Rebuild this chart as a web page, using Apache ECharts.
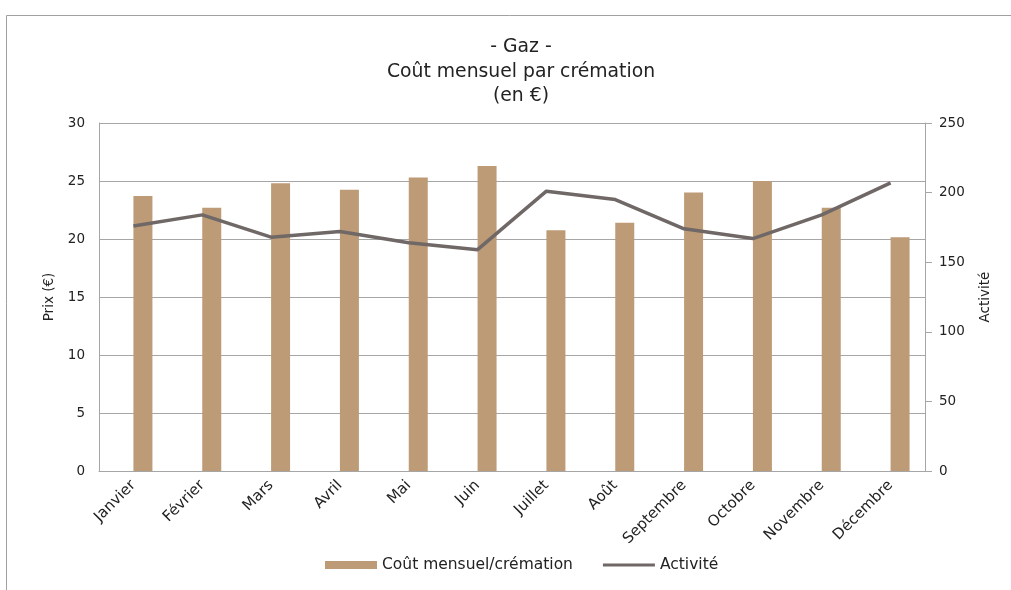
<!DOCTYPE html>
<html>
<head>
<meta charset="utf-8">
<script src="https://cdn.jsdelivr.net/npm/echarts@6/dist/echarts.min.js"></script>
<style>
html, body { margin: 0; padding: 0; background: #fff; }
#main { width: 1011px; height: 590px; }
</style>
</head>
<body>
<div id="main"></div>
<script>
var months = ['Janvier', 'Février', 'Mars', 'Avril', 'Mai', 'Juin', 'Juillet', 'Août', 'Septembre', 'Octobre', 'Novembre', 'Décembre'];
var coutMensuel = [23.7, 22.7, 24.8, 24.25, 25.3, 26.3, 20.75, 21.4, 24.0, 25.0, 22.7, 20.15];
var activite = [176, 184, 168, 172, 164, 159, 201, 195, 174, 167, 184, 207];
var prixTicks = [0, 5, 10, 15, 20, 25, 30];
var activiteTicks = [0, 50, 100, 150, 200, 250];
// empty companion column: the workbook keeps a blank slot left of each bar
var colonneVide = months.map(function() { return null; });

var chart = echarts.init(document.getElementById('main'));
var font = '"DejaVu Sans", sans-serif';
var gris = '#a6a6a6';
var texte = '#222';

var option = {
    backgroundColor: '#fff',
    textStyle: { fontFamily: font },
    graphic: [{
        type: 'rect',
        left: 4, top: 13,
        shape: { width: 1100, height: 700 },
        style: { fill: 'none', stroke: '#a0a0a0', lineWidth: 1 },
        silent: true
    }],
    title: {
        text: '- Gaz -\nCoût mensuel par crémation\n(en €)',
        left: 516,
        top: 30,
        textAlign: 'center',
        textStyle: {
            color: texte,
            fontSize: 18.8,
            fontWeight: 'normal',
            lineHeight: 24.5,
            fontFamily: font
        }
    },
    legend: {
        top: 552,
        left: 320,
        itemWidth: 52,
        itemHeight: 8,
        itemGap: 30,
        textStyle: { color: texte, fontSize: 15.5, fontFamily: font },
        data: [
            { name: 'Coût mensuel/crémation', icon: 'rect' },
            { name: 'Activité', icon: 'path://M0,0 H52 V3 H0 Z' }
        ]
    },
    grid: {
        left: 99,
        right: 86,
        top: 123,
        bottom: 119
    },
    xAxis: {
        type: 'category',
        data: months,
        axisLine: { lineStyle: { color: gris } },
        axisTick: { show: false },
        axisLabel: {
            rotate: 45,
            color: texte,
            fontSize: 15,
            margin: 12,
            interval: 0
        }
    },
    yAxis: [{
        type: 'value',
        min: prixTicks[0],
        max: prixTicks[prixTicks.length - 1],
        interval: 5,
        name: 'Prix (€)',
        nameLocation: 'middle',
        nameGap: 41,
        nameTextStyle: { color: texte, fontSize: 13.5 },
        axisLine: { show: true, lineStyle: { color: gris } },
        axisTick: { show: false },
        axisLabel: { color: texte, fontSize: 13.5, margin: 14 },
        splitLine: { lineStyle: { color: gris } }
    }, {
        type: 'value',
        min: activiteTicks[0],
        max: activiteTicks[activiteTicks.length - 1],
        interval: 50,
        name: 'Activité',
        nameLocation: 'middle',
        nameGap: 53,
        nameTextStyle: { color: texte, fontSize: 13.5 },
        axisLine: { show: true, lineStyle: { color: gris } },
        axisTick: { show: true, length: 7, lineStyle: { color: gris } },
        axisLabel: { color: texte, fontSize: 13.5, margin: 14 },
        splitLine: { show: false }
    }],
    series: [{
        name: 'vide',
        type: 'bar',
        yAxisIndex: 0,
        barWidth: 19,
        barGap: '0%',
        data: colonneVide,
        silent: true
    }, {
        name: 'Coût mensuel/crémation',
        type: 'bar',
        yAxisIndex: 0,
        barWidth: 19,
        barGap: '0%',
        itemStyle: { color: '#bd9b77' },
        data: coutMensuel
    }, {
        name: 'Activité',
        type: 'line',
        yAxisIndex: 1,
        symbol: 'none',
        lineStyle: { color: '#6f6866', width: 3.5 },
        itemStyle: { color: '#6f6866' },
        data: activite
    }]
};

chart.setOption(option);

window.onresize = function() {
    chart.resize();
};
</script>
</body>
</html>
